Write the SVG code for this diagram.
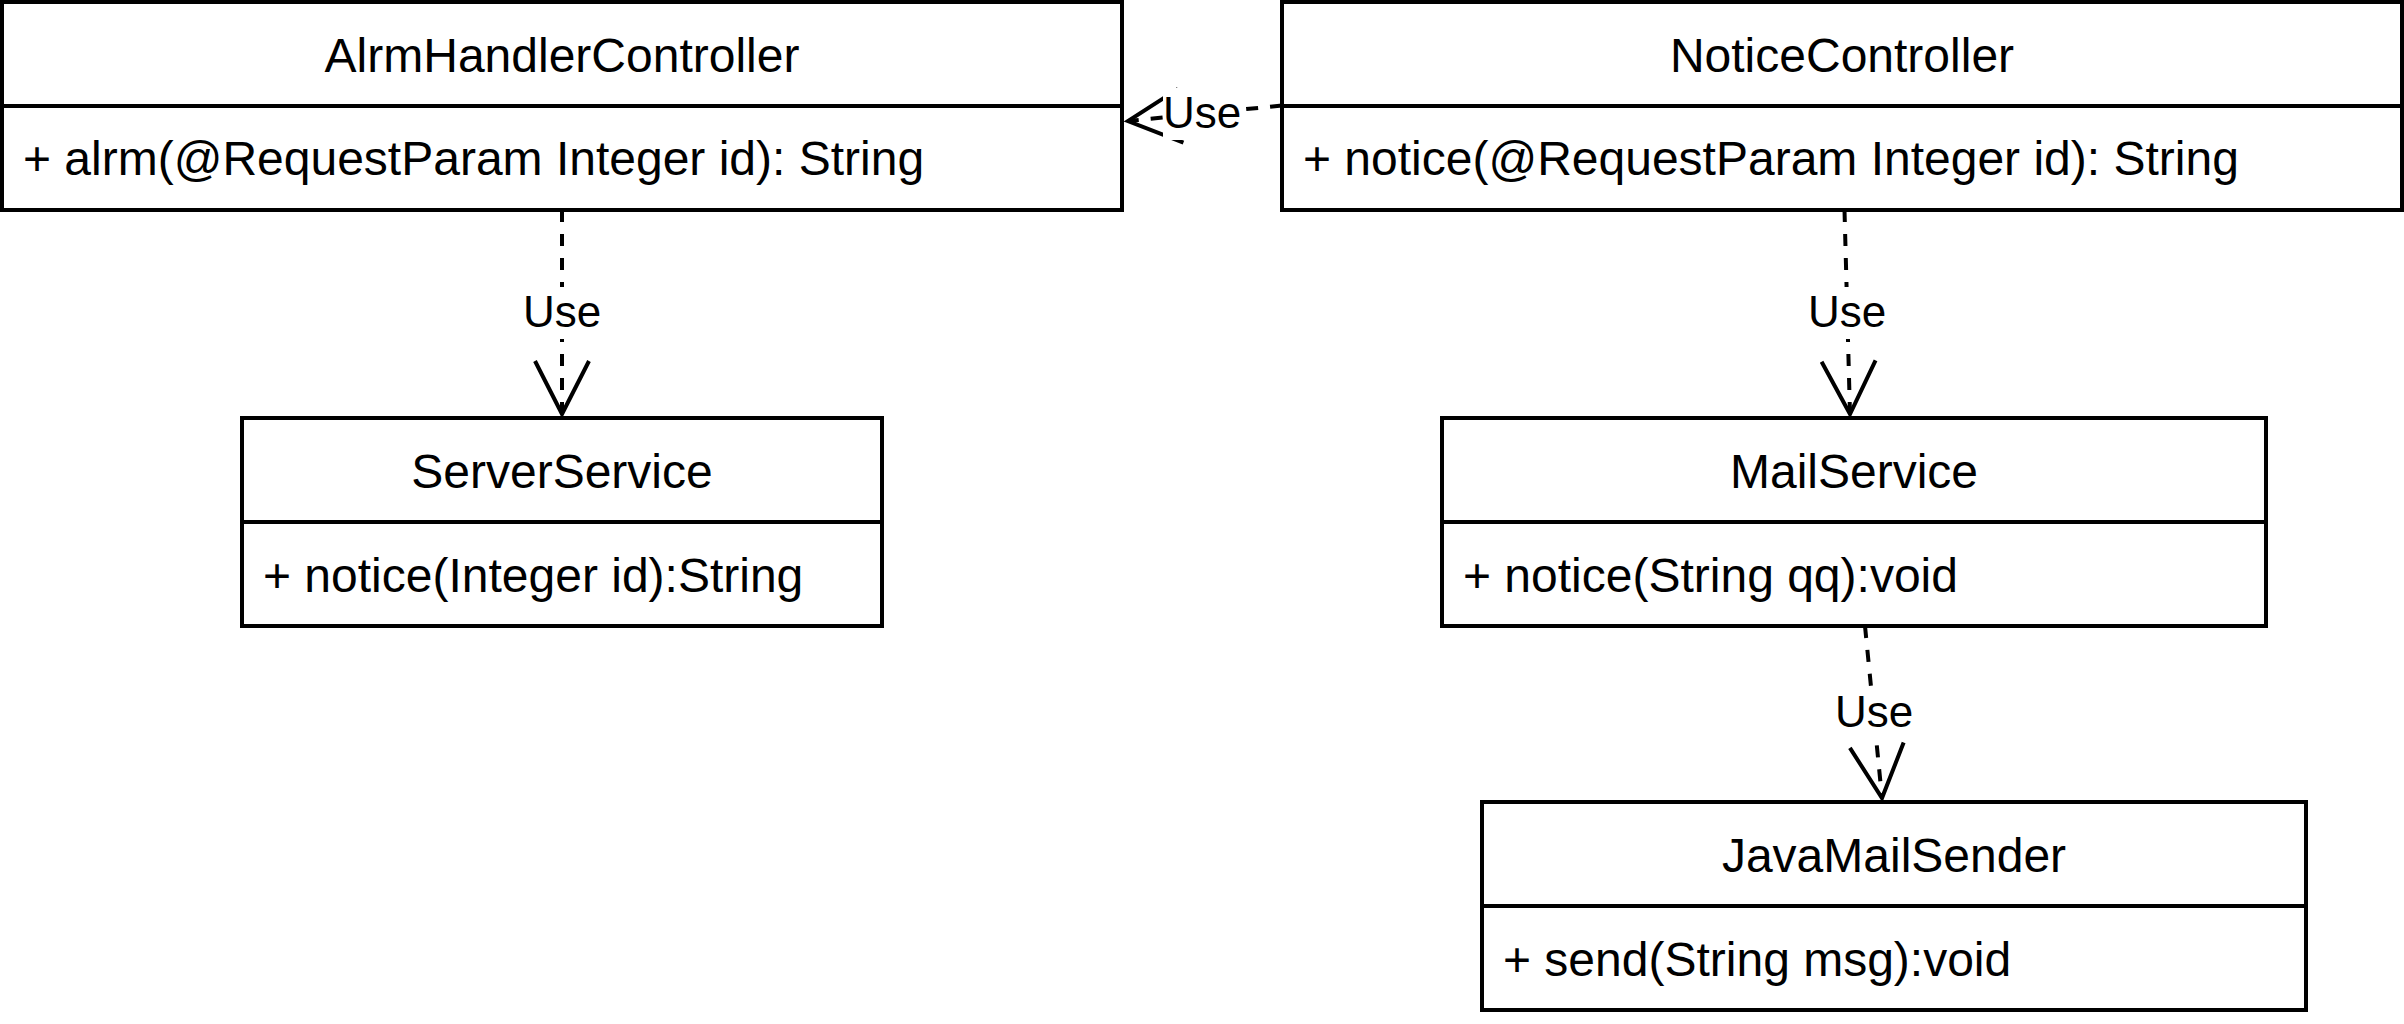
<svg xmlns="http://www.w3.org/2000/svg" width="2404" height="1024" viewBox="0 0 2404 1024">
  <style>
    .box { fill: #ffffff; stroke: #000000; stroke-width: 4; }
    .div { stroke: #000000; stroke-width: 4; fill: none; }
    .title { font-family: "Liberation Sans", Arial, sans-serif; font-size: 48px; fill: #000000; text-anchor: middle; }
    .member { font-family: "Liberation Sans", Arial, sans-serif; font-size: 48px; fill: #000000; }
    .edge { fill: none; stroke: #000000; stroke-width: 4; stroke-dasharray: 12 12; }
    .lblbg { fill: #ffffff; stroke: none; }
    .lbl { font-family: "Liberation Sans", Arial, sans-serif; font-size: 44px; fill: #000000; text-anchor: middle; }
  </style>
  <defs>
    <marker id="openArrow" markerUnits="userSpaceOnUse" viewBox="-60 -32 66 64" markerWidth="66" markerHeight="64" refX="0" refY="0" orient="auto" overflow="visible">
      <path d="M-53,-27 L0,0 L-53,27" fill="none" stroke="#000000" stroke-width="4" stroke-dasharray="none"/>
    </marker>
  </defs>
  <rect x="0" y="0" width="2404" height="1024" fill="#ffffff"/>

  <g id="AlrmHandlerController">
    <rect class="box" x="2" y="2" width="1120" height="208"/>
    <line class="div" x1="2" y1="106" x2="1122" y2="106"/>
    <text class="title" x="562" y="72">AlrmHandlerController</text>
    <text class="member" x="23" y="175">+ alrm(@RequestParam Integer id): String</text>
  </g>

  <g id="NoticeController">
    <rect class="box" x="1282" y="2" width="1120" height="208"/>
    <line class="div" x1="1282" y1="106" x2="2402" y2="106"/>
    <text class="title" x="1842" y="72">NoticeController</text>
    <text class="member" x="1303" y="175">+ notice(@RequestParam Integer id): String</text>
  </g>

  <g id="ServerService">
    <rect class="box" x="242" y="418" width="640" height="208"/>
    <line class="div" x1="242" y1="522" x2="882" y2="522"/>
    <text class="title" x="562" y="488">ServerService</text>
    <text class="member" x="263" y="592">+ notice(Integer id):String</text>
  </g>

  <g id="MailService">
    <rect class="box" x="1442" y="418" width="824" height="208"/>
    <line class="div" x1="1442" y1="522" x2="2266" y2="522"/>
    <text class="title" x="1854" y="488">MailService</text>
    <text class="member" x="1463" y="592">+ notice(String qq):void</text>
  </g>

  <g id="JavaMailSender">
    <rect class="box" x="1482" y="802" width="824" height="208"/>
    <line class="div" x1="1482" y1="906" x2="2306" y2="906"/>
    <text class="title" x="1894" y="872">JavaMailSender</text>
    <text class="member" x="1503" y="976">+ send(String msg):void</text>
  </g>

  <g id="connectors">
    <g id="edge-alrm-server">
      <path class="edge" d="M562,210 L562,414" marker-end="url(#openArrow)"/>
      <rect class="lblbg" x="521" y="287" width="82" height="52"/>
      <text class="lbl" x="562" y="327">Use</text>
    </g>
    <g id="edge-notice-mail">
      <path class="edge" d="M1844.5,210 L1850,414" marker-end="url(#openArrow)"/>
      <rect class="lblbg" x="1806" y="287" width="82" height="52"/>
      <text class="lbl" x="1847" y="327">Use</text>
    </g>
    <g id="edge-mail-java">
      <path class="edge" d="M1865,626 L1882,798" marker-end="url(#openArrow)"/>
      <rect class="lblbg" x="1833" y="687" width="82" height="52"/>
      <text class="lbl" x="1874" y="727">Use</text>
    </g>
    <g id="edge-notice-alrm">
      <path class="edge" d="M1282,105.5 L1128,121" marker-end="url(#openArrow)"/>
      <rect class="lblbg" x="1163" y="88" width="78" height="52"/>
      <text class="lbl" x="1202" y="128">Use</text>
    </g>
  </g>
</svg>
